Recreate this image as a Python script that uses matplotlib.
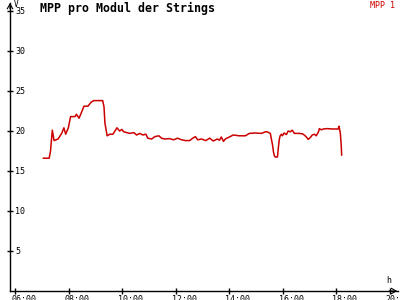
import matplotlib.pyplot as plt
import matplotlib.transforms as mtransforms

# MPP Spannung ueber den Tag
zeiten = ['07:03', '07:16', '07:19', '07:23', '07:27', '07:36', '07:44', '07:49', '07:53', '07:59',
          '08:04', '08:14', '08:17', '08:23', '08:29', '08:34', '08:43', '08:50', '08:56', '09:16',
          '09:19', '09:21', '09:26', '09:32', '09:39', '09:48', '09:54', '09:59', '10:03', '10:10',
          '10:17', '10:26', '10:32', '10:39', '10:46', '10:53', '10:57', '11:06', '11:13', '11:22',
          '11:28', '11:35', '11:46', '11:55', '12:04', '12:13', '12:22', '12:31', '12:38', '12:44',
          '12:49', '12:58', '13:07', '13:16', '13:24', '13:33', '13:38', '13:42', '13:47', '13:51',
          '14:00', '14:09', '14:22', '14:36', '14:45', '14:58', '15:12', '15:21', '15:25', '15:32',
          '15:34', '15:37', '15:39', '15:41', '15:43', '15:48', '15:50', '15:52', '15:54', '15:57',
          '15:59', '16:03', '16:08', '16:12', '16:17', '16:21', '16:26', '16:37', '16:44', '16:48',
          '16:53', '16:57', '17:02', '17:06', '17:11', '17:15', '17:20', '17:22', '17:26', '17:31',
          '17:40', '17:51', '18:04', '18:06', '18:09', '18:11', '18:12']
mpp1 = [16.6, 16.6, 17.5, 20.1, 18.8, 19.0, 19.7, 20.4, 19.6, 20.4,
        21.8, 21.8, 22.1, 21.6, 22.4, 23.1, 23.1, 23.6, 23.8, 23.8,
        23.0, 21.0, 19.4, 19.6, 19.6, 20.4, 20.0, 20.2, 19.9, 19.8,
        19.7, 19.8, 19.5, 19.7, 19.5, 19.6, 19.1, 19.0, 19.3, 19.4,
        19.1, 19.0, 19.05, 18.9, 19.1, 18.9, 18.8, 18.8, 19.1, 19.3,
        18.9, 19.0, 18.8, 19.1, 18.75, 19.0, 18.85, 19.25, 18.7, 19.0,
        19.25, 19.5, 19.4, 19.4, 19.7, 19.75, 19.7, 19.9, 19.9, 19.7,
        19.1, 18.25, 17.4, 16.9, 16.75, 16.75, 17.9, 18.9, 19.4, 19.6,
        19.4, 19.75, 19.55, 20.0, 19.9, 20.1, 19.7, 19.7, 19.65, 19.5,
        19.25, 18.95, 19.2, 19.5, 19.6, 19.4, 19.9, 20.3, 20.15, 20.25,
        20.3, 20.25, 20.25, 20.6, 19.75, 18.25, 17.0]

y_ticks = [5, 10, 15, 20, 25, 30, 35]
x_ticks = [6, 8, 10, 12, 14, 16, 18, 20]
x_labels = ['06:00', '08:00', '10:00', '12:00', '14:00', '16:00', '18:00', '20:00']

stunden = [int(z[:2]) + int(z[3:]) / 60 for z in zeiten]

rot = '#cc0000'
mono = 'DejaVu Sans Mono'

fig = plt.figure(figsize=(4, 3), dpi=100)
ax = fig.add_axes([10 / 400, 9 / 300, 388 / 400, 288 / 300])

ax.plot(stunden, mpp1, color=rot, linewidth=1.1)

ax.set_xlim(5.802, 20.306)
ax.set_ylim(0, 36)

ax.spines['top'].set_visible(False)
ax.spines['right'].set_visible(False)
for s in ['left', 'bottom']:
    ax.spines[s].set_linewidth(1.0)

ax.set_yticks(y_ticks)
ax.set_yticklabels([str(v) for v in y_ticks], fontfamily=mono, fontsize=6)
ax.set_xticks(x_ticks)
ax.set_xticklabels(x_labels, fontfamily=mono, fontsize=6)

ax.tick_params(axis='both', direction='inout', length=4.3, width=1.0)
ax.tick_params(axis='y', pad=-5.8)
ax.tick_params(axis='x', pad=1)
for lab in ax.get_yticklabels():
    lab.set_horizontalalignment('left')
off = mtransforms.ScaledTranslation(-4 / 100, 0, fig.dpi_scale_trans)
for lab in ax.get_xticklabels():
    lab.set_horizontalalignment('left')
    lab.set_transform(lab.get_transform() + off)

# Pfeile an den Achsen (offene Spitzen)
pfeil = dict(arrowstyle='->,head_length=0.35,head_width=0.2', lw=0.8, color='black')
ax.annotate('', xy=(0, 1.01), xytext=(0, 0.97), xycoords='axes fraction',
            arrowprops=pfeil, annotation_clip=False)
ax.annotate('', xy=(1.005, 0), xytext=(0.97, 0), xycoords='axes fraction',
            arrowprops=pfeil, annotation_clip=False)

fig.text(14 / 400, 1 - 0 / 300, 'V', fontfamily=mono, fontsize=5.5, va='top')
fig.text(386 / 400, 1 - 276 / 300, 'h', fontfamily=mono, fontsize=6, va='top')

fig.text(40 / 400, 1 - 2 / 300, 'MPP pro Modul der Strings', fontfamily=mono,
         fontsize=8.4, fontweight='bold', va='top')
fig.text(395 / 400, 1 - 1 / 300, 'MPP 1', fontfamily=mono, fontsize=6,
         color=rot, va='top', ha='right')

fig.savefig('out.png', dpi=100, facecolor='white')
